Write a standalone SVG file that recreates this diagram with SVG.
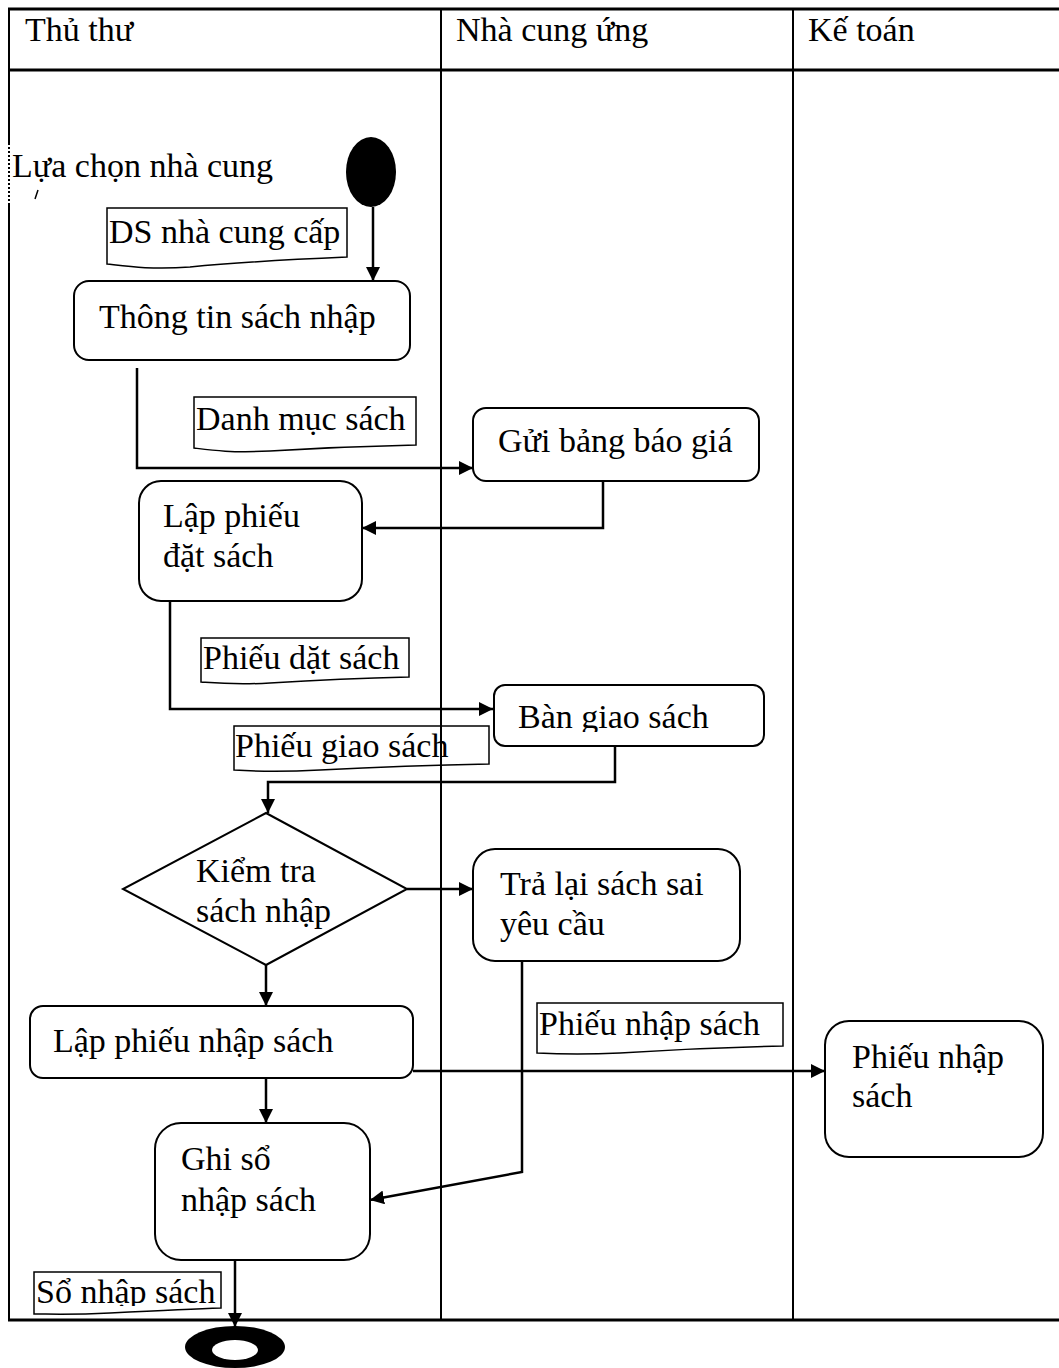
<svg xmlns="http://www.w3.org/2000/svg" width="1059" height="1368" viewBox="0 0 1059 1368">
<style>
text{font-family:"Liberation Serif","Times New Roman",serif;font-size:34px;fill:#000}
.lane{stroke:#000;stroke-width:2;fill:none}
.laneh{stroke:#000;stroke-width:3;fill:none}
.box{fill:#fff;stroke:#000;stroke-width:2}
.doc{fill:none;stroke:#000;stroke-width:1.5}
.conn path{fill:none;stroke:#000;stroke-width:2.5}
</style>
<defs>
<marker id="arr" viewBox="0 0 10 10" refX="10" refY="5" markerWidth="14" markerHeight="14" markerUnits="userSpaceOnUse" orient="auto">
<path d="M0,0 L10,5 L0,10 z" fill="#000"/>
</marker>
<clipPath id="clipBan"><rect x="480" y="680" width="300" height="52"/></clipPath>
<clipPath id="clipSo"><rect x="30" y="1265" width="200" height="41"/></clipPath>
</defs>
<rect width="1059" height="1368" fill="#fff"/>

<g id="lanes">
<line class="laneh" x1="8" y1="9" x2="1059" y2="9"/>
<line class="laneh" x1="8" y1="70" x2="1059" y2="70"/>
<line class="laneh" x1="8" y1="1320" x2="1059" y2="1320"/>
<line class="lane" x1="9" y1="8" x2="9" y2="143"/>
<line class="lane" x1="9" y1="143" x2="9" y2="203" stroke-dasharray="2 2"/>
<line class="lane" x1="9" y1="203" x2="9" y2="1321"/>
<line class="lane" x1="441" y1="9" x2="441" y2="1320"/>
<line class="lane" x1="793" y1="9" x2="793" y2="1320"/>
<text x="25" y="41">Thủ thư</text>
<text x="456" y="41">Nhà cung ứng</text>
<text x="808" y="41">Kế toán</text>
</g>

<g id="lua-chon">
<text x="12" y="177">Lựa chọn nhà cung</text>
<path d="M38,190 L35,199" stroke="#000" stroke-width="1.5" fill="none"/>
</g>

<g id="start">
<ellipse cx="371" cy="172" rx="25" ry="35" fill="#000"/>
</g>

<g id="doc-ds">
<path class="doc" d="M107,208 H347 V257 C300,259 240,262 190,267 C150,270 125,266 107,264 Z"/>
<text x="109" y="243">DS nhà cung cấp</text>
</g>

<g id="thong-tin">
<rect class="box" x="74" y="281" width="336" height="79" rx="15"/>
<text x="99" y="328">Thông tin sách nhập</text>
</g>

<g id="doc-danh-muc">
<path class="doc" d="M194,397 H416 V445 C370,446 320,448 270,451 C230,453 210,450 194,448 Z"/>
<text x="196" y="430">Danh mục sách</text>
</g>

<g id="gui-bang">
<rect class="box" x="473" y="408" width="286" height="73" rx="13"/>
<text x="498" y="452">Gửi bảng báo giá</text>
</g>

<g id="lap-phieu-dat">
<rect class="box" x="139" y="481" width="223" height="120" rx="22"/>
<text x="163" y="527">Lập phiếu</text>
<text x="163" y="567">đặt sách</text>
</g>

<g id="doc-phieu-dat">
<path class="doc" d="M201,638 H409 V677 C370,678 320,680 270,683 C235,685 215,683 201,682 Z"/>
<text x="203" y="669">Phiếu dặt sách</text>
</g>

<g id="ban-giao">
<rect class="box" x="494" y="685" width="270" height="61" rx="11"/>
<text x="518" y="728" clip-path="url(#clipBan)">Bàn giao sách</text>
</g>

<g id="doc-phieu-giao">
<path class="doc" d="M234,726 H489 V764 C440,765 380,767 320,770 C280,772 250,771 234,770 Z"/>
<text x="235" y="757">Phiếu giao sách</text>
</g>

<g id="kiem-tra">
<path class="box" d="M266,813 L407,889 L266,965 L123,889 Z"/>
<text x="196" y="882">Kiểm tra</text>
<text x="196" y="922">sách nhập</text>
</g>

<g id="tra-lai">
<rect class="box" x="473" y="849" width="267" height="112" rx="22"/>
<text x="500" y="895">Trả lại sách sai</text>
<text x="500" y="935">yêu cầu</text>
</g>

<g id="doc-phieu-nhap">
<path class="doc" d="M537,1003 H783 V1046 C730,1047 680,1049 620,1053 C580,1055 555,1054 537,1053 Z"/>
<text x="539" y="1035">Phiếu nhập sách</text>
</g>

<g id="lap-phieu-nhap">
<rect class="box" x="30" y="1006" width="383" height="72" rx="13"/>
<text x="53" y="1052">Lập phiếu nhập sách</text>
</g>

<g id="ke-toan-phieu">
<rect class="box" x="825" y="1021" width="218" height="136" rx="24"/>
<text x="852" y="1068">Phiếu nhập</text>
<text x="852" y="1107">sách</text>
</g>

<g id="ghi-so">
<rect class="box" x="155" y="1123" width="215" height="137" rx="26"/>
<text x="181" y="1170">Ghi sổ</text>
<text x="181" y="1211">nhập sách</text>
</g>

<g id="doc-so-nhap">
<path class="doc" d="M34,1272 H221 V1308 C190,1309 150,1311 110,1313 C70,1315 50,1314 34,1314 Z"/>
<text x="36" y="1303" clip-path="url(#clipSo)">Sổ nhập sách</text>
</g>

<g id="end">
<ellipse cx="235" cy="1347" rx="50" ry="21" fill="#000"/>
<ellipse cx="235" cy="1350" rx="23" ry="10" fill="#fff"/>
</g>

<g id="connectors" class="conn">
<path d="M373,207 V281" marker-end="url(#arr)"/>
<path d="M137,368 V468 H473" marker-end="url(#arr)"/>
<path d="M603,481 V528 H362" marker-end="url(#arr)"/>
<path d="M170,601 V709 H493" marker-end="url(#arr)"/>
<path d="M615,747 V782 H268 V813" marker-end="url(#arr)"/>
<path d="M407,889 H473" marker-end="url(#arr)"/>
<path d="M266,965 V1006" marker-end="url(#arr)"/>
<path d="M522,961 V1172 L370,1200" marker-end="url(#arr)"/>
<path d="M413,1071 H825" marker-end="url(#arr)"/>
<path d="M266,1078 V1123" marker-end="url(#arr)"/>
<path d="M235,1260 V1327" marker-end="url(#arr)"/>
</g>
</svg>
